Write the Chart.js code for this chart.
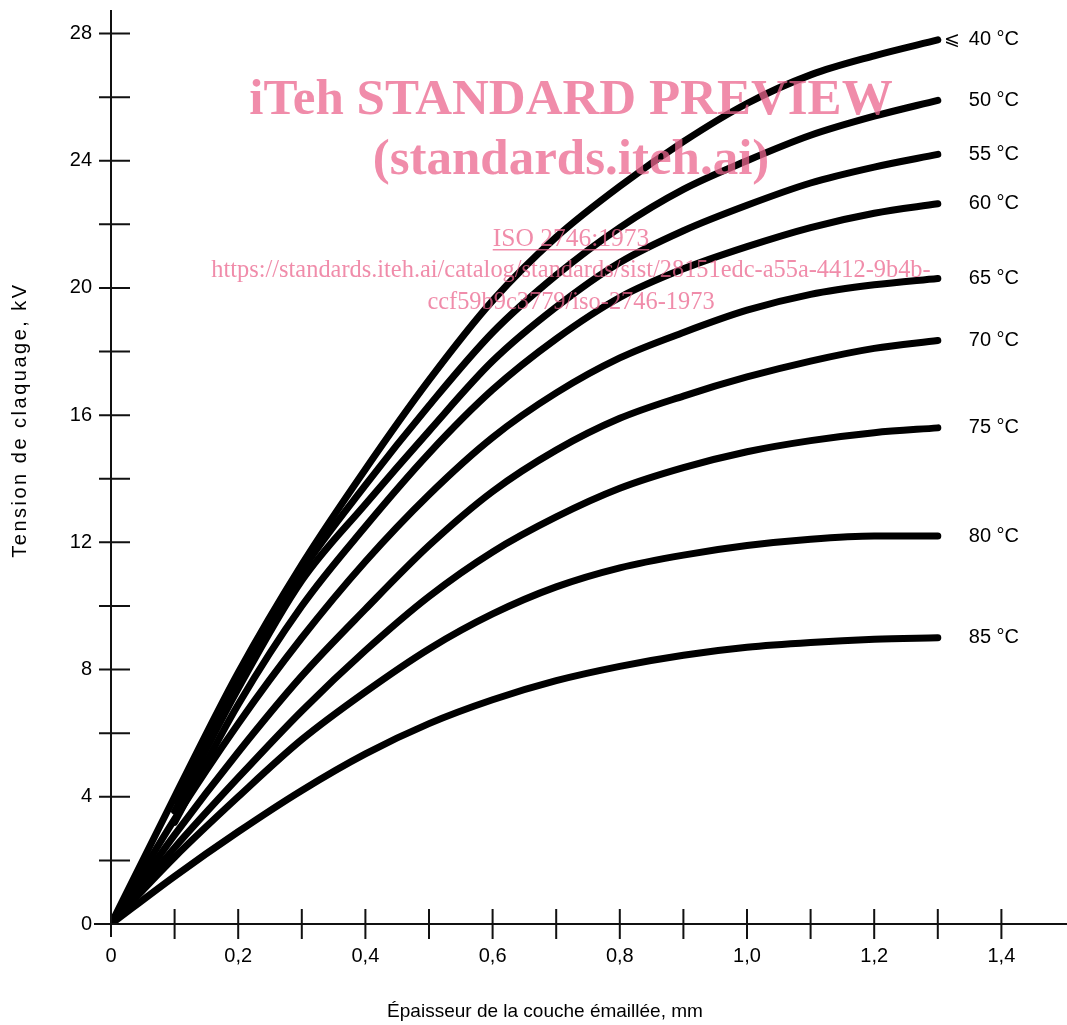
<!DOCTYPE html>
<html>
<head>
<meta charset="utf-8">
<script src="https://cdn.jsdelivr.net/npm/chart.js"></script>
<style>
  html, body { margin:0; padding:0; background:#fff; }
  #wrap { width:1067px; height:1025px; }
</style>
</head>
<body>
<div id="wrap"><canvas id="chart" width="1067" height="1025"></canvas></div>
<script>
// épaisseur (mm) et tension de claquage (kV) par température
var thickness = [0, 0.1, 0.2, 0.3, 0.4, 0.5, 0.6, 0.7, 0.8, 0.9, 1.0, 1.1, 1.2, 1.3];
var kv40 = [0, 4.0, 7.9, 11.3, 14.3, 17.1, 19.6, 21.6, 23.2, 24.6, 25.8, 26.7, 27.3, 27.8];
var kv50 = [null, 3.9, 7.7, 11.1, 13.8, 16.3, 18.6, 20.4, 21.9, 23.1, 24.0, 24.8, 25.4, 25.9];
var kv55 = [null, 3.55, 7.4, 10.8, 13.2, 15.5, 17.7, 19.4, 20.8, 21.8, 22.6, 23.3, 23.8, 24.2];
var kv60 = [null, 3.2, 6.9, 10.0, 12.5, 14.8, 16.8, 18.4, 19.7, 20.6, 21.3, 21.9, 22.35, 22.65];
var kv65 = [0, 3.3, 6.3, 9.0, 11.4, 13.5, 15.3, 16.7, 17.8, 18.6, 19.3, 19.8, 20.1, 20.3];
var kv70 = [0, 2.8, 5.4, 7.8, 9.9, 11.9, 13.6, 14.9, 15.9, 16.6, 17.2, 17.7, 18.1, 18.35];
var kv75 = [0, 2.4, 4.6, 6.7, 8.6, 10.3, 11.7, 12.8, 13.7, 14.35, 14.85, 15.2, 15.45, 15.6];
var kv80 = [0, 2.1, 4.0, 5.8, 7.3, 8.65, 9.75, 10.6, 11.2, 11.6, 11.9, 12.1, 12.2, 12.2];
var kv85 = [0, 1.5, 2.9, 4.2, 5.35, 6.3, 7.05, 7.65, 8.1, 8.45, 8.7, 8.85, 8.95, 9.0];
var curveLabels = ['40 °C', '50 °C', '55 °C', '60 °C', '65 °C', '70 °C', '75 °C', '80 °C', '85 °C'];

// graduations
var xLabelTicks = [0, 0.2, 0.4, 0.6, 0.8, 1.0, 1.2, 1.4];
var xTickMarks = [0.1, 0.2, 0.3, 0.4, 0.5, 0.6, 0.7, 0.8, 0.9, 1.0, 1.1, 1.2, 1.3, 1.4];
var yLabelTicks = [0, 4, 8, 12, 16, 20, 24, 28];
var yTickMarks = [2, 4, 6, 8, 10, 12, 14, 16, 18, 20, 22, 24, 26, 28];

var series = [kv40, kv50, kv55, kv60, kv65, kv70, kv75, kv80, kv85];

function toPoints(vals){
  var pts = [];
  for (var i = 0; i < thickness.length; i++) {
    if (vals[i] !== null) pts.push({x: thickness[i], y: vals[i]});
  }
  return pts;
}

var FONT = '"Liberation Sans", Arial, Helvetica, sans-serif';
var INK = '#000';

var datasets = series.map(function(vals, i){
  return {
    label: curveLabels[i],
    data: toPoints(vals),
    borderColor: '#000',
    borderWidth: 7,
    borderCapStyle: 'round',
    borderJoinStyle: 'round',
    pointRadius: 0,
    fill: false,
    cubicInterpolationMode: 'monotone'
  };
});

// axes, graduations, textes et filigrane
var paperPlugin = {
  id: 'paper',
  afterDatasetsDraw: function(chart){
    var ctx = chart.ctx;
    var xs = chart.scales.x, ys = chart.scales.y;
    var x0 = xs.getPixelForValue(0), y0 = ys.getPixelForValue(0);
    ctx.save();
    ctx.strokeStyle = '#111';
    ctx.lineWidth = 2;
    ctx.beginPath();
    ctx.moveTo(x0, chart.chartArea.top); ctx.lineTo(x0, y0 + 13);
    ctx.moveTo(x0 - 17, y0); ctx.lineTo(1067, y0);
    yTickMarks.forEach(function(v){
      var py = ys.getPixelForValue(v);
      ctx.moveTo(x0 - 12, py); ctx.lineTo(x0 + 19, py);
    });
    xTickMarks.forEach(function(v){
      var px = xs.getPixelForValue(v);
      ctx.moveTo(px, y0 - 15); ctx.lineTo(px, y0 + 15);
    });
    ctx.stroke();

    // étiquettes des courbes
    ctx.fillStyle = INK;
    ctx.font = '20px ' + FONT;
    ctx.textBaseline = 'middle';
    ctx.textAlign = 'left';
    series.forEach(function(vals, i){
      var py = ys.getPixelForValue(vals[vals.length - 1]);
      var px = xs.getPixelForValue(thickness[thickness.length - 1]);
      ctx.fillText(curveLabels[i], px + 31, py);
      if (i === 0) {
        ctx.textAlign = 'right';
        ctx.font = '19px "DejaVu Sans", sans-serif';
        ctx.fillText('\u2A7D', px + 22, py);
        ctx.font = '20px ' + FONT;
        ctx.textAlign = 'left';
      }
    });

    // titres des axes
    ctx.font = '19px ' + FONT;
    ctx.textAlign = 'center';
    ctx.fillText('Épaisseur de la couche émaillée, mm', 545, 1012);
    ctx.translate(20, 420);
    ctx.rotate(-Math.PI / 2);
    ctx.font = '20px ' + FONT;
    ctx.letterSpacing = '2.5px';
    ctx.fillText('Tension de claquage, kV', 0, 0);
    ctx.letterSpacing = '0px';
    ctx.restore();

    // filigrane
    ctx.save();
    ctx.globalAlpha = 0.75;
    ctx.fillStyle = 'rgb(235,102,142)';
    ctx.textAlign = 'center';
    ctx.textBaseline = 'alphabetic';
    ctx.font = 'bold 51px "Liberation Serif", "Times New Roman", serif';
    ctx.fillText('iTeh STANDARD PREVIEW', 571, 114);
    ctx.fillText('(standards.iteh.ai)', 571, 174);
    ctx.font = '25.5px "Liberation Serif", "Times New Roman", serif';
    ctx.fillText('ISO 2746:1973', 571, 246);
    var w = ctx.measureText('ISO 2746:1973').width;
    ctx.fillRect(571 - w / 2, 249, w, 1.5);
    ctx.font = '24.4px "Liberation Serif", "Times New Roman", serif';
    ctx.fillText('https://standards.iteh.ai/catalog/standards/sist/28151edc-a55a-4412-9b4b-', 571, 277);
    ctx.fillText('ccf59b9c3779/iso-2746-1973', 571, 309);
    ctx.restore();
  }
};

new Chart(document.getElementById('chart').getContext('2d'), {
  type: 'line',
  data: { datasets: datasets },
  options: {
    responsive: false,
    animation: false,
    devicePixelRatio: 1,
    layout: { padding: { left: 0, right: 2, top: 10, bottom: 0 } },
    plugins: { legend: { display: false }, tooltip: { enabled: false } },
    scales: {
      x: {
        type: 'linear', min: 0, max: 1.5,
        grid: { display: false, drawTicks: false },
        border: { display: false },
        afterFit: function(s){ s.height = 101; s.paddingLeft = 0; s.paddingRight = 0; },
        afterBuildTicks: function(s){ s.ticks = xLabelTicks.map(function(v){ return {value: v}; }); },
        ticks: {
          padding: 20, color: INK, font: { family: FONT, size: 20 },
          callback: function(v){ return v === 0 ? '0' : v.toFixed(1).replace('.', ','); }
        }
      },
      y: {
        type: 'linear', min: 0, max: 28.74,
        grid: { display: false, drawTicks: false },
        border: { display: false },
        afterFit: function(s){ s.width = 111; s.paddingTop = 0; s.paddingBottom = 0; },
        afterBuildTicks: function(s){ s.ticks = yLabelTicks.map(function(v){ return {value: v}; }); },
        ticks: {
          padding: 19, color: INK, font: { family: FONT, size: 20 },
          callback: function(v){ return String(v); }
        }
      }
    }
  },
  plugins: [paperPlugin]
});
</script>
</body>
</html>
